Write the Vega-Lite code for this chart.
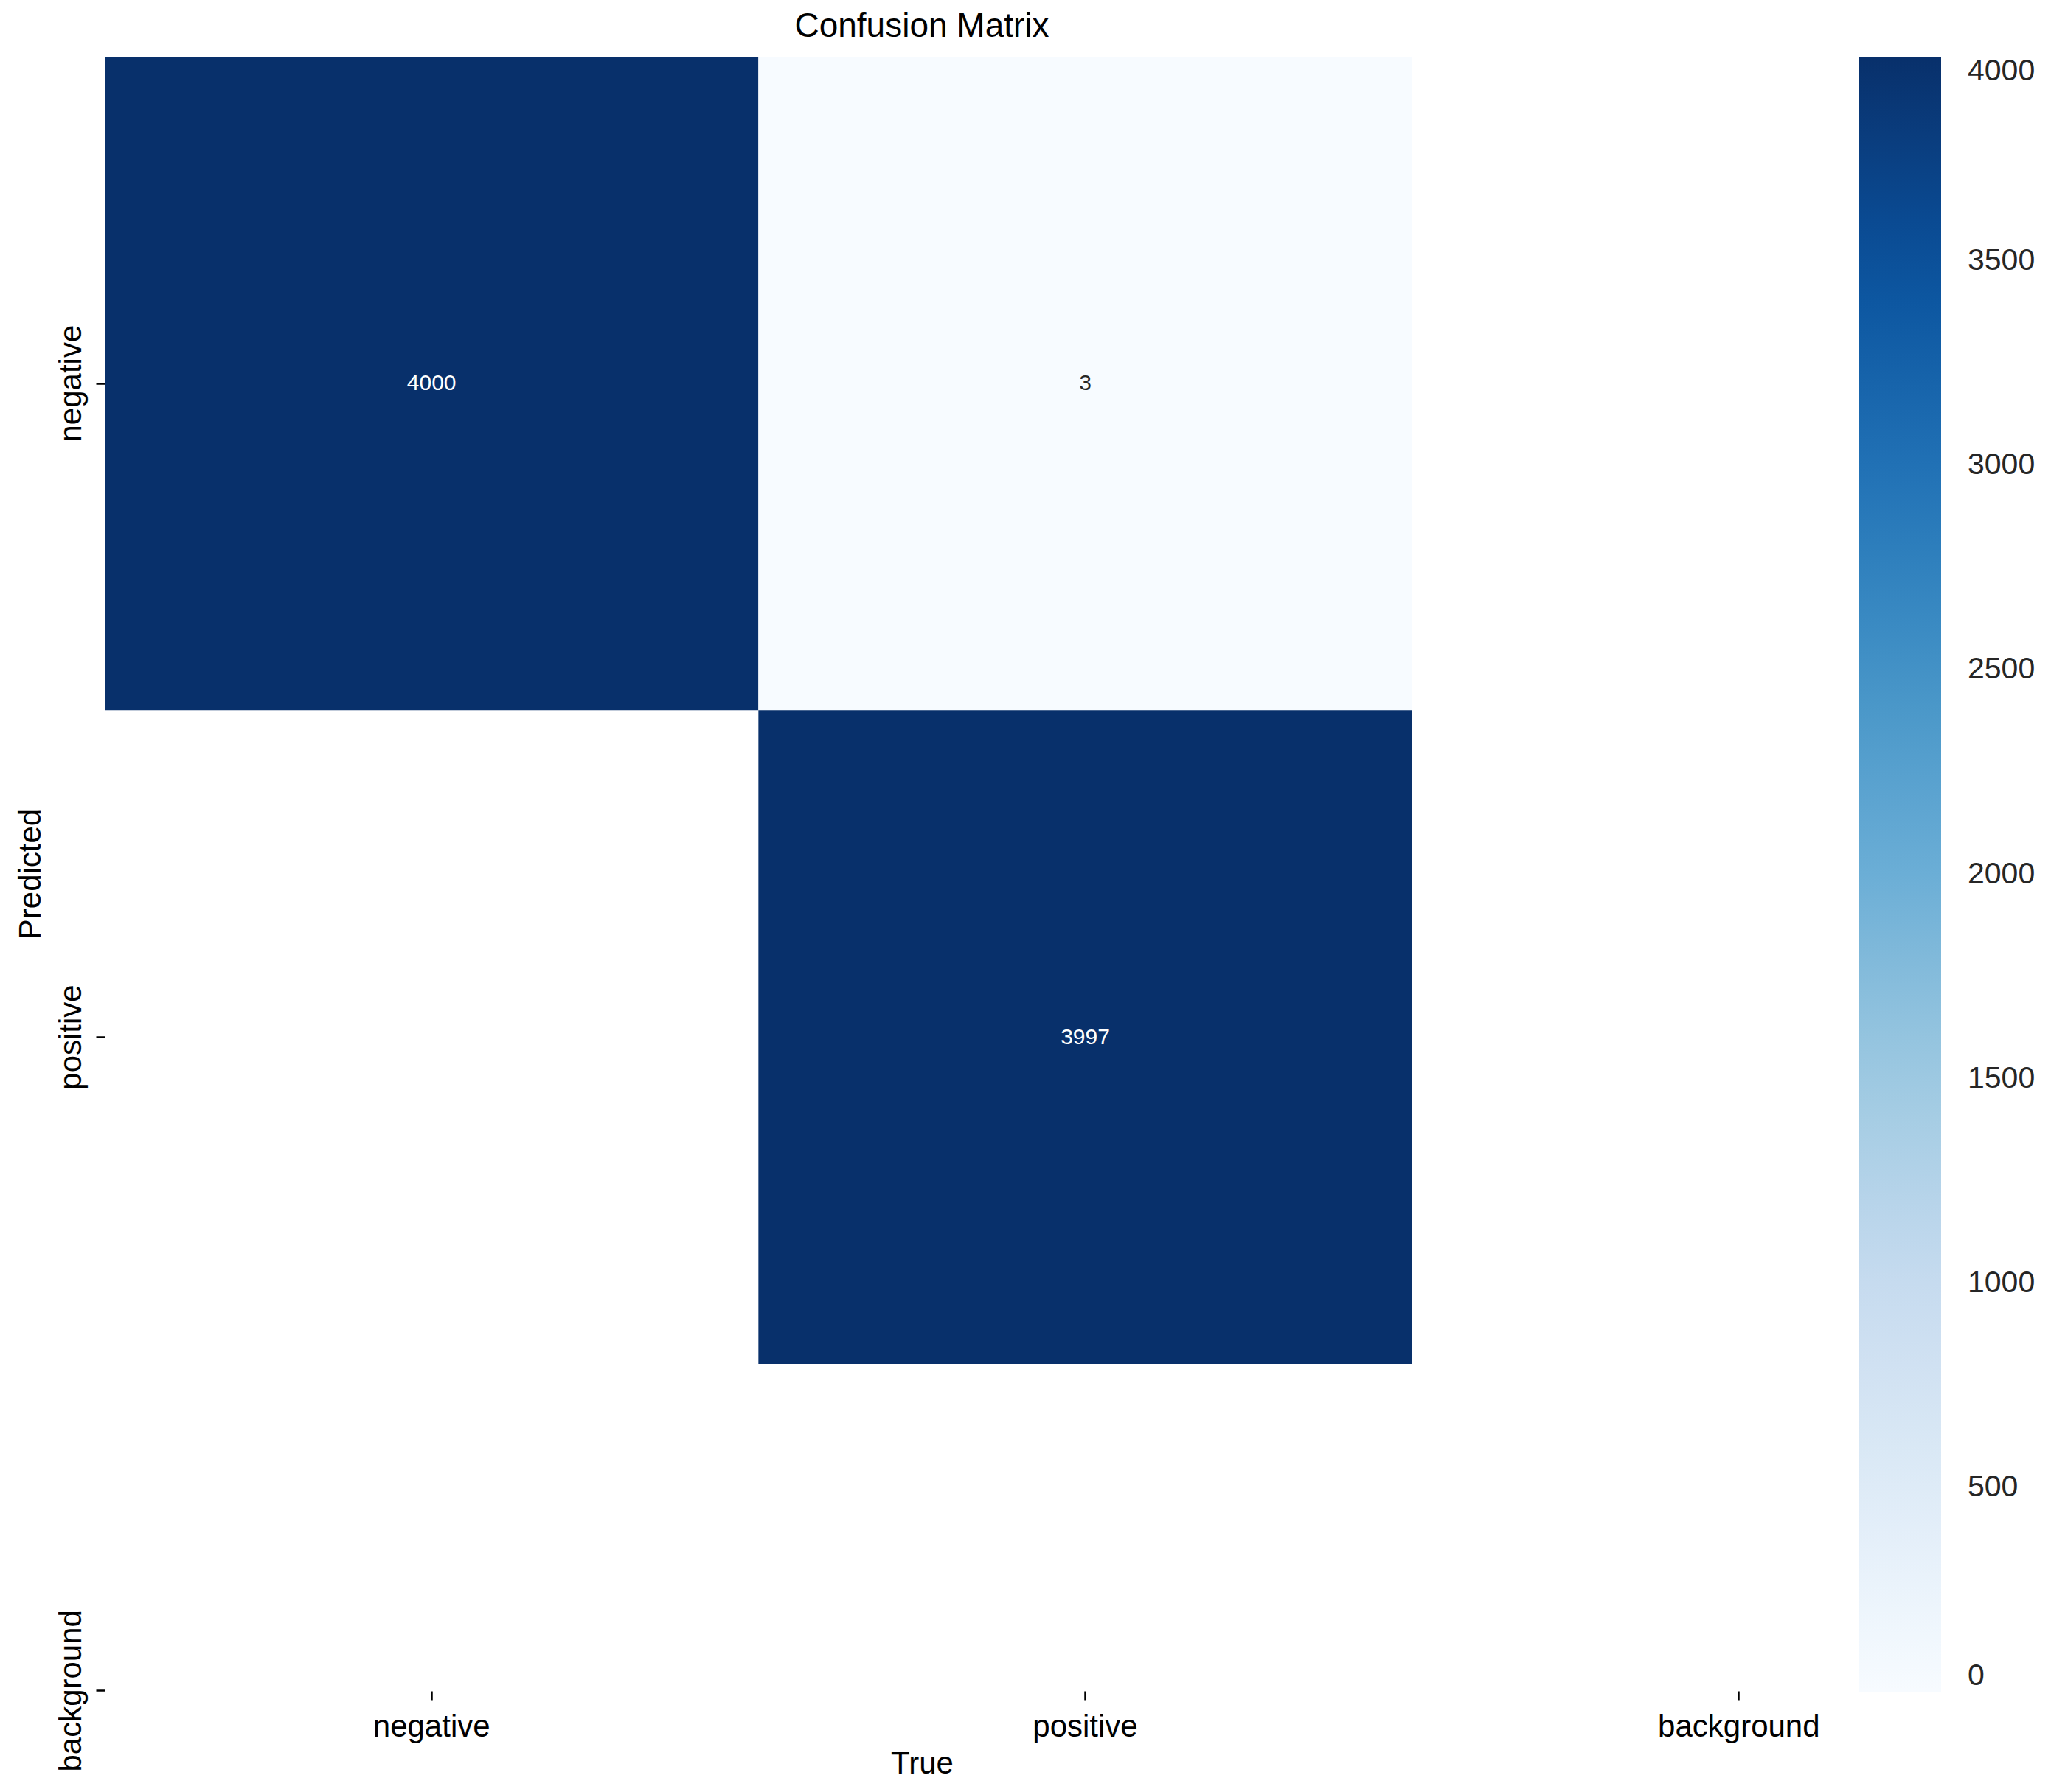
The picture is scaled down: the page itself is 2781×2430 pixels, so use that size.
{
  "$schema": "https://vega.github.io/schema/vega-lite/v6.json",
  "width": 2216,
  "height": 2216,
  "autosize": {"type": "none"},
  "padding": {"left": 142, "top": 77, "right": 423, "bottom": 137},
  "background": "white",
  "title": {
    "text": "Confusion Matrix",
    "font": "Liberation Sans",
    "fontSize": 46,
    "fontWeight": "normal",
    "color": "black",
    "anchor": "middle",
    "frame": "group",
    "baseline": "alphabetic",
    "offset": -19
  },
  "data": {
    "values": [
      {"true": "negative", "pred": "negative", "count": 4000},
      {"true": "positive", "pred": "negative", "count": 3},
      {"true": "positive", "pred": "positive", "count": 3997}
    ]
  },
  "encoding": {
    "x": {
      "field": "true",
      "type": "nominal",
      "title": "True",
      "scale": {"domain": ["negative", "positive", "background"], "range": [0, 2659], "paddingInner": 0, "paddingOuter": 0},
      "axis": {
        "labelAngle": 0,
        "domain": false,
        "tickSize": 12,
        "tickWidth": 2.5,
        "tickColor": "black",
        "labelFont": "Liberation Sans",
        "labelFontSize": 42,
        "labelColor": "black",
        "labelPadding": 16,
        "labelLimit": 0,
        "titleFont": "Liberation Sans",
        "titleFontSize": 42,
        "titleFontWeight": "normal",
        "titleColor": "black",
        "titlePadding": 9,
        "titleX": 1108,
        "grid": false
      }
    },
    "y": {
      "field": "pred",
      "type": "nominal",
      "title": "Predicted",
      "scale": {"domain": ["negative", "positive", "background"], "range": [0, 2659], "paddingInner": 0, "paddingOuter": 0},
      "axis": {
        "labelAngle": 270,
        "labelAlign": "center",
        "labelBaseline": "bottom",
        "domain": false,
        "tickSize": 12,
        "tickWidth": 2.5,
        "tickColor": "black",
        "labelFont": "Liberation Sans",
        "labelFontSize": 42,
        "labelColor": "black",
        "labelPadding": 12,
        "labelLimit": 0,
        "titleFont": "Liberation Sans",
        "titleFontSize": 42,
        "titleFontWeight": "normal",
        "titleColor": "black",
        "titlePadding": 12,
        "titleY": 1108,
        "grid": false
      }
    }
  },
  "layer": [
    {
      "mark": {"type": "rect", "clip": true},
      "encoding": {
        "color": {
          "field": "count",
          "type": "quantitative",
          "scale": {
            "domain": [0, 500, 1000, 1500, 2000, 2500, 3000, 3500, 4000],
            "range": ["#f7fbff", "#deebf7", "#c6dbef", "#9ecae1", "#6baed6", "#4292c6", "#2171b5", "#08519c", "#08306b"]
          },
          "legend": {
            "title": null,
            "orient": "right",
            "offset": 163,
            "padding": 0,
            "direction": "vertical",
            "gradientLength": 2217,
            "gradientThickness": 111,
            "gradientStrokeWidth": 0,
            "values": [0, 500, 1000, 1500, 2000, 2500, 3000, 3500, 4000],
            "format": "d",
            "labelFont": "Liberation Sans",
            "labelFontSize": 41,
            "labelColor": "#262626",
            "labelOffset": 36,
            "labelBaseline": "middle",
            "labelOverlap": false
          }
        }
      }
    },
    {
      "mark": {"type": "text", "font": "Liberation Sans", "fontSize": 30, "align": "center", "baseline": "middle"},
      "encoding": {
        "text": {"field": "count", "type": "quantitative", "format": "d"},
        "color": {"condition": {"test": "datum.count > 2000", "value": "white"}, "value": "#262626"}
      }
    }
  ],
  "config": {
    "view": {"stroke": null}
  }
}
